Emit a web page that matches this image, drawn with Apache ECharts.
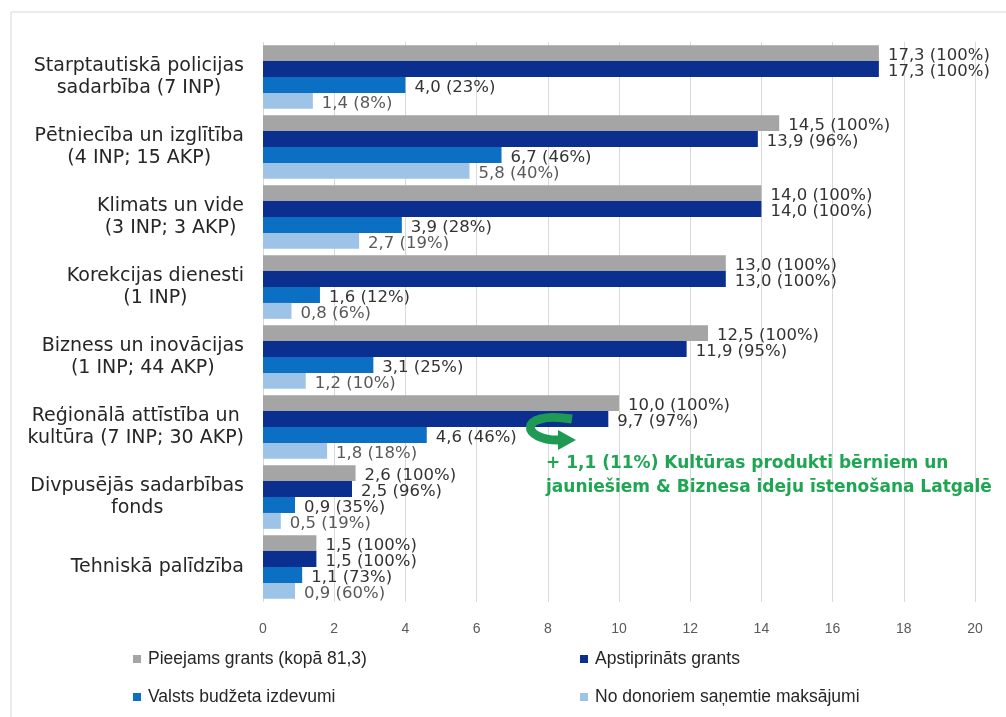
<!DOCTYPE html>
<html>
<head>
<meta charset="utf-8">
<script src="https://cdn.jsdelivr.net/npm/echarts@6/dist/echarts.min.js"></script>
<style>
html,body{margin:0;padding:0;background:#fff;}
#chart{width:1006px;height:717px;}
</style>
</head>
<body>
<div id="chart"></div>
<script>
const categories = [
  'Starptautiskā policijas\nsadarbība (7 INP)',
  'Pētniecība un izglītība\n(4 INP; 15 AKP)',
  'Klimats un vide\n(3 INP; 3 AKP)',
  'Korekcijas dienesti\n(1 INP)',
  'Bizness un inovācijas\n(1 INP; 44 AKP)',
  'Reģionālā attīstība un\nkultūra (7 INP; 30 AKP)',
  'Divpusējās sadarbības\nfonds',
  'Tehniskā palīdzība'
];
const seriesNames = [
  'Pieejams grants (kopā 81,3)',
  'Apstiprināts grants',
  'Valsts budžeta izdevumi',
  'No donoriem saņemtie maksājumi'
];
const availableGrant = [17.3, 14.5, 14.0, 13.0, 12.5, 10.0, 2.6, 1.5];
const availablePct   = [100, 100, 100, 100, 100, 100, 100, 100];
const approvedGrant  = [17.3, 13.9, 14.0, 13.0, 11.9, 9.7, 2.5, 1.5];
const approvedPct    = [100, 96, 100, 100, 95, 97, 96, 100];
const budgetSpend    = [4.0, 6.7, 3.9, 1.6, 3.1, 4.6, 0.9, 1.1];
const budgetPct      = [23, 46, 28, 12, 25, 46, 35, 73];
const donorPayments  = [1.4, 5.8, 2.7, 0.8, 1.2, 1.8, 0.5, 0.9];
const donorPct       = [8, 40, 19, 6, 10, 18, 19, 60];
const xTicks = [0, 2, 4, 6, 8, 10, 12, 14, 16, 18, 20];
const annotationText = '+ 1,1 (11%) Kultūras produkti bērniem un\njauniešiem & Biznesa ideju īstenošana Latgalē';

const colors = ['#a5a5a5', '#0a2f8f', '#0b70c4', '#9dc3e6'];
const values = [availableGrant, approvedGrant, budgetSpend, donorPayments];
const pcts = [availablePct, approvedPct, budgetPct, donorPct];
const labelColors = ['#333333', '#333333', '#333333', '#595959'];

const chart = echarts.init(document.getElementById('chart'), null, {renderer: 'canvas'});

const series = values.map((vals, si) => ({
  name: seriesNames[si],
  type: 'bar',
  data: vals,
  barGap: '0%',
  barCategoryGap: '9%',
  itemStyle: {color: colors[si]},
  label: {
    show: true,
    position: 'right',
    distance: 9,
    offset: [0, 3],
    color: labelColors[si],
    fontFamily: 'DejaVu Sans',
    fontSize: 16.5,
    formatter: p => p.value.toFixed(1).replace('.', ',') + ' (' + pcts[si][p.dataIndex] + '%)'
  }
}));

const legendPos = [[133, 650], [580, 650], [133, 688], [580, 688]];
const legends = seriesNames.map((n, i) => ({
  data: [n],
  left: legendPos[i][0],
  top: legendPos[i][1],
  padding: 0,
  icon: 'rect',
  itemWidth: 8,
  itemHeight: 8,
  itemGap: 0,
  selectedMode: false,
  textStyle: {fontFamily: 'Liberation Sans', fontSize: 17.5, color: '#262626', padding: [0, 0, 0, 2]}
}));

chart.setOption({
  animation: false,
  backgroundColor: '#ffffff',
  color: colors,
  grid: {left: 263, right: 31, top: 42, bottom: 115, containLabel: false},
  xAxis: {
    type: 'value',
    min: 0,
    max: 20,
    interval: 2,
    axisLine: {show: false},
    axisTick: {show: false},
    splitLine: {show: true, lineStyle: {color: '#d9d9d9', width: 1}},
    axisLabel: {
      margin: 20,
      color: '#595959',
      fontFamily: 'Liberation Sans',
      fontSize: 14,
      formatter: v => xTicks.includes(v) ? String(v) : ''
    }
  },
  yAxis: {
    type: 'category',
    data: categories,
    inverse: true,
    axisLine: {show: false},
    axisTick: {show: false},
    splitLine: {show: false},
    axisLabel: {
      margin: 19,
      color: '#262626',
      fontFamily: 'DejaVu Sans',
      fontSize: 19,
      lineHeight: 22,
      formatter: v => v.split('\n').map(l => '{c|' + l + '}').join('\n'),
      rich: {
        c: {align: 'center', fontFamily: 'DejaVu Sans', fontSize: 19, lineHeight: 22, color: '#262626'}
      }
    }
  },
  legend: legends,
  series: series,
  graphic: [
    {
      type: 'rect',
      x: 11, y: 12,
      shape: {x: 0, y: 0, width: 1010, height: 720},
      style: {fill: 'none', stroke: '#d9d9d9', lineWidth: 1},
      silent: true, z: -1
    },
    {
      type: 'bezierCurve',
      shape: {x1: 572, y1: 419, cpx1: 515, cpy1: 410, cpx2: 522, cpy2: 442, x2: 561, y2: 440},
      style: {fill: 'none', stroke: '#1f9a55', lineWidth: 9},
      silent: true, z: 10
    },
    {
      type: 'polygon',
      shape: {points: [[558, 430], [576, 440], [558, 450]]},
      style: {fill: '#1f9a55'},
      silent: true, z: 10
    },
    {
      type: 'text',
      x: 546, y: 452,
      style: {
        text: annotationText,
        fill: '#1ea652',
        font: 'bold 17px "DejaVu Sans"',
        lineHeight: 24
      },
      silent: true, z: 10
    }
  ]
});
</script>
</body>
</html>
